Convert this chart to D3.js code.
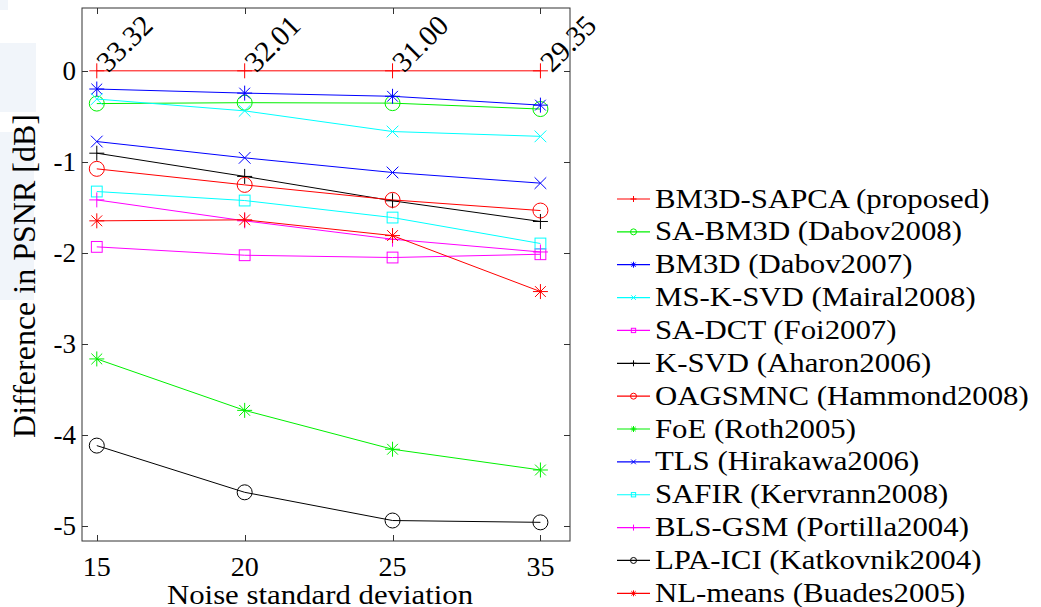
<!DOCTYPE html>
<html>
<head>
<meta charset="utf-8">
<script src="https://cdn.jsdelivr.net/npm/d3@7.9.0/dist/d3.min.js"></script>
<style>
  body { margin: 0; background: #fff; }
</style>
</head>
<body>
<svg id="chart" width="1041" height="607"></svg>
<script>
// === Data ===
const noiseLevels = [15, 20, 25, 35];
const psnrLabels = ["33.32", "32.01", "31.00", "29.35"];
const yTicks = [0, -1, -2, -3, -4, -5];

const seriesNames = [
  "BM3D-SAPCA (proposed)", "SA-BM3D (Dabov2008)", "BM3D (Dabov2007)",
  "MS-K-SVD (Mairal2008)", "SA-DCT (Foi2007)", "K-SVD (Aharon2006)",
  "OAGSMNC (Hammond2008)", "FoE (Roth2005)", "TLS (Hirakawa2006)",
  "SAFIR (Kervrann2008)", "BLS-GSM (Portilla2004)", "LPA-ICI (Katkovnik2004)",
  "NL-means (Buades2005)"
];

// difference in PSNR [dB] per noise level
const bm3dSapca = [0, 0, 0, 0];
const saBm3d    = [-0.36, -0.35, -0.355, -0.42];
const bm3d      = [-0.20, -0.245, -0.28, -0.377];
const msKsvd    = [-0.31, -0.44, -0.667, -0.72];
const saDct     = [-1.934, -2.026, -2.051, -2.015];
const kSvd      = [-0.905, -1.16, -1.428, -1.655];
const oagsmnc   = [-1.077, -1.253, -1.418, -1.535];
const foe       = [-3.165, -3.73, -4.157, -4.385];
const tls       = [-0.777, -0.956, -1.117, -1.234];
const safir     = [-1.326, -1.425, -1.612, -1.897];
const blsGsm    = [-1.418, -1.648, -1.85, -1.99];
const lpaIci    = [-4.117, -4.63, -4.94, -4.96];
const nlMeans   = [-1.648, -1.637, -1.81, -2.425];

const seriesValues = [bm3dSapca, saBm3d, bm3d, msKsvd, saDct, kSvd,
  oagsmnc, foe, tls, safir, blsGsm, lpaIci, nlMeans];

// === Styles ===
const seriesColors = ["#ff0000", "#00f000", "#0000ff", "#00ffff", "#ff00ff", "#000000",
  "#ff0000", "#00f000", "#0000ff", "#00ffff", "#ff00ff", "#000000", "#ff0000"];
const seriesMarkers = ["plus", "circle", "star", "cross", "square", "plus",
  "circle", "star", "cross", "square", "plus", "circle", "star"];

const serif = "'Liberation Serif', 'Times New Roman', 'DejaVu Serif', serif";
const stretch = 1.1; // the figure is slightly widened horizontally

// === Layout ===
const plot = { left: 82, right: 570, top: 8, bottom: 541 };

const svg = d3.select("#chart").attr("font-family", serif);

// faint background blocks on the left edge
svg.append("g").attr("fill", "#f1f5fa")
  .selectAll("rect")
  .data([[0, 0, 8, 10], [0, 43, 36, 69], [0, 132, 34, 168]])
  .join("rect")
  .attr("x", d => d[0]).attr("y", d => d[1])
  .attr("width", d => d[2]).attr("height", d => d[3]);

const x = d3.scaleLinear().domain([-0.1, 3.2]).range([plot.left, plot.right]);
const y = d3.scaleLinear().domain([-5.165, 0.69]).range([plot.bottom, plot.top]);

// === Axes (MATLAB style box, ticks inside) ===
const axisColor = "#333";
const tickLen = 6;

const axes = svg.append("g").attr("stroke", axisColor).attr("stroke-width", 1);
axes.append("rect")
  .attr("x", plot.left).attr("y", plot.top)
  .attr("width", plot.right - plot.left).attr("height", plot.bottom - plot.top)
  .attr("fill", "none");

noiseLevels.forEach((n, i) => {
  const px = Math.round(x(i)) + 0.5;
  axes.append("line").attr("x1", px).attr("x2", px)
    .attr("y1", plot.bottom).attr("y2", plot.bottom - tickLen);
  axes.append("line").attr("x1", px).attr("x2", px)
    .attr("y1", plot.top).attr("y2", plot.top + tickLen);
});
yTicks.forEach(t => {
  const py = Math.round(y(t)) + 0.5;
  axes.append("line").attr("x1", plot.left).attr("x2", plot.left + tickLen)
    .attr("y1", py).attr("y2", py);
  axes.append("line").attr("x1", plot.right).attr("x2", plot.right - tickLen)
    .attr("y1", py).attr("y2", py);
});

// tick labels
svg.append("g").attr("font-size", 27).attr("text-anchor", "middle")
  .selectAll("text").data(noiseLevels).join("text")
  .attr("transform", (d, i) => `translate(${x(i)},576) scale(1.04,1)`)
  .text(d => d);

svg.append("g").attr("font-size", 27).attr("text-anchor", "end")
  .selectAll("text").data(yTicks).join("text")
  .attr("x", 76).attr("y", d => y(d) + 9)
  .text(d => d === 0 ? "0" : "-" + Math.abs(d));

// axis labels
svg.append("text")
  .attr("transform", `translate(${(plot.left + plot.right) / 2 - 6},604) scale(${stretch},1)`)
  .attr("text-anchor", "middle").attr("font-size", 28)
  .text("Noise standard deviation");

svg.append("text")
  .attr("transform", `translate(35,276) rotate(-90)`)
  .attr("text-anchor", "middle").attr("font-size", 32)
  .text("Difference in PSNR [dB]");

// === Markers ===
function drawMarker(g, type, cx, cy, s, color) {
  const m = g.append("g").attr("transform", `translate(${cx},${cy})`)
    .attr("stroke", color).attr("fill", "none").attr("stroke-width", 1);
  if (type === "plus" || type === "star") {
    m.append("line").attr("x1", -s).attr("x2", s).attr("y1", 0).attr("y2", 0);
    m.append("line").attr("x1", 0).attr("x2", 0).attr("y1", -s).attr("y2", s);
  }
  if (type === "cross" || type === "star") {
    const k = type === "star" ? s * 0.72 : s * 0.78;
    m.append("line").attr("x1", -k).attr("x2", k).attr("y1", -k).attr("y2", k);
    m.append("line").attr("x1", -k).attr("x2", k).attr("y1", k).attr("y2", -k);
  }
  if (type === "circle") {
    m.append("circle").attr("r", s);
  }
  if (type === "square") {
    m.append("rect").attr("x", -s * 0.72).attr("y", -s * 0.72)
      .attr("width", s * 1.44).attr("height", s * 1.44);
  }
}

// === Series ===
const line = d3.line().x((d, i) => x(i)).y(d => y(d));
const series = svg.append("g");

seriesValues.forEach((vals, k) => {
  series.append("path")
    .attr("d", line(vals))
    .attr("fill", "none")
    .attr("stroke", seriesColors[k])
    .attr("stroke-width", 1);
  vals.forEach((v, i) => drawMarker(series, seriesMarkers[k], x(i), y(v), 7.5, seriesColors[k]));
});

// PSNR of the proposed method, written along the zero line
svg.append("g").attr("font-size", 29)
  .selectAll("text").data(psnrLabels).join("text")
  .attr("transform", (d, i) => `translate(${x(i) + 5},${y(0) - 4}) rotate(-45)`)
  .attr("dy", "0.32em")
  .text(d => d);

// === Legend ===
const legend = svg.append("g");
seriesNames.forEach((name, k) => {
  const ly = 199 + k * 32.86;
  legend.append("line")
    .attr("x1", 617).attr("x2", 650).attr("y1", ly).attr("y2", ly)
    .attr("stroke", seriesColors[k]).attr("stroke-width", 1.2);
  drawMarker(legend, seriesMarkers[k], 633.5, ly, 3, seriesColors[k]);
  legend.append("text")
    .attr("transform", `translate(655,${ly + 8.5}) scale(${stretch},1)`)
    .attr("font-size", 28)
    .text(name);
});
</script>
</body>
</html>
